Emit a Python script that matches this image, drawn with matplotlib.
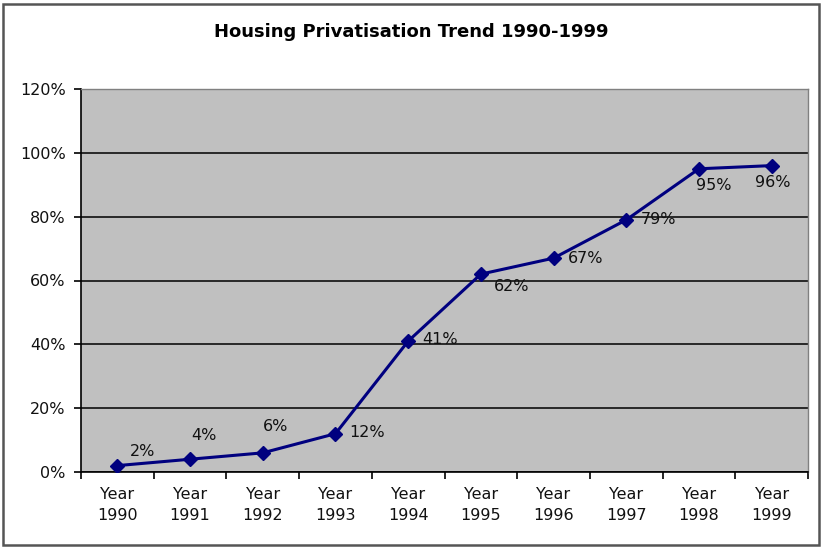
import matplotlib
matplotlib.use("Agg")
import matplotlib.pyplot as plt
from matplotlib.patches import Rectangle
from matplotlib.ticker import FixedLocator, FuncFormatter

plt.rcParams['font.family'] = ['DejaVu Sans']

years = ["1990", "1991", "1992", "1993", "1994", "1995", "1996", "1997", "1998", "1999"]
share = [2, 4, 6, 12, 41, 62, 67, 79, 95, 96]
labels = [f"{v}%" for v in share]
# label offsets in points (dx, dy) for each data label
offsets = [(18, 10), (10, 17), (9, 19), (23, 1), (23, 1), (22, -9), (23, 0), (23, 0), (11, -12), (1, -12)]

fig = plt.figure(figsize=(8.23, 5.48), dpi=100)
fig.patch.set_facecolor("white")
fig.patches.append(Rectangle((2.5 / 823, 3 / 548), 816 / 823, 541 / 548,
                             transform=fig.transFigure, fill=False,
                             edgecolor="#555555", linewidth=1.8))

ax = fig.add_axes([81 / 823, 1 - 472 / 548, 727 / 823, 383 / 548])
ax.set_facecolor("#c0c0c0")

x = list(range(len(years)))
ax.plot(x, share, color="#00007f", linewidth=2.2, marker="D", markersize=7.5,
        markerfacecolor="#00007f", markeredgecolor="#00007f", zorder=3)

for xi, v, lab, (dx, dy) in zip(x, share, labels, offsets):
    ax.annotate(lab, (xi, v), xytext=(dx, dy), textcoords="offset points",
                ha="center", va="center", fontsize=11.5, color="#111111", zorder=4)

ax.set_xlim(-0.5, len(years) - 0.5)
ax.set_ylim(0, 120)
ax.yaxis.set_major_locator(FixedLocator([0, 20, 40, 60, 80, 100, 120]))
ax.yaxis.set_major_formatter(FuncFormatter(lambda v, p: f"{int(v)}%"))
ax.grid(axis="y", color="black", linewidth=1.1)
ax.set_axisbelow(True)

ax.set_xticks(x)
ax.set_xticklabels([f"Year\n{y}" for y in years], fontsize=11.5, linespacing=1.45,
                   color="#111111")
ax.set_xticks([i - 0.5 for i in range(len(years) + 1)], minor=True)
ax.tick_params(axis="x", which="major", length=0, pad=11)
ax.tick_params(axis="x", which="minor", length=5, width=1.2, color="black", direction="out")
ax.tick_params(axis="y", length=5, width=1.2, color="black", labelsize=11.5, pad=6,
               labelcolor="#111111")

for side in ("top", "right"):
    ax.spines[side].set_color("#808080")
    ax.spines[side].set_linewidth(1.0)
for side in ("left", "bottom"):
    ax.spines[side].set_color("black")
    ax.spines[side].set_linewidth(1.2)

fig.text(411 / 823, 1 - 32 / 548, "Housing Privatisation Trend 1990-1999",
         ha="center", va="center", fontsize=13, fontweight="bold")

fig.savefig("out.png", dpi=100)
